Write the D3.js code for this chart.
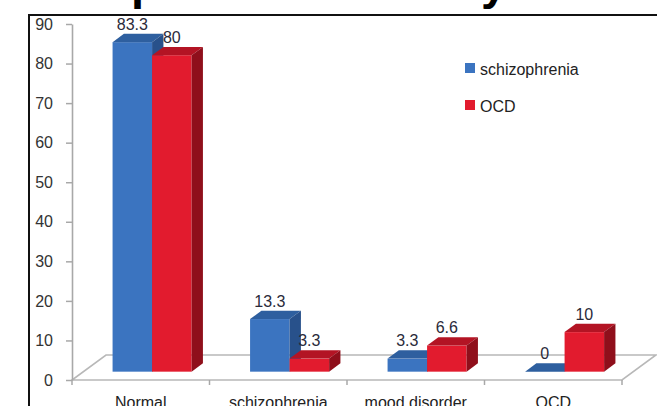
<!DOCTYPE html>
<html>
<head>
<meta charset="utf-8">
<script src="https://d3js.org/d3.v7.min.js"></script>
<style>
  html, body { margin: 0; padding: 0; background: #fff; }
  svg { display: block; }
  text { font-family: "Liberation Sans", Arial, sans-serif; }
</style>
</head>
<body>
<svg id="chart" width="657" height="406"></svg>
<script>
// Diagnoses found among relatives, by patient group (percent)
const categories = ["Normal", "schizophrenia", "mood disorder", "OCD"];
const seriesNames = ["schizophrenia", "OCD"];
const schizophreniaValues = [83.3, 13.3, 3.3, 0];
const ocdValues = [80, 3.3, 6.6, 10];
const yTickValues = [0, 10, 20, 30, 40, 50, 60, 70, 80, 90];
const titleText = "Comparison of family members";

const colors = {
  schizophrenia: { front: "#3b74c0", top: "#2e5f9f", side: "#28518b" },
  OCD: { front: "#e21b2e", top: "#b31424", side: "#8f0f1b" }
};

const svg = d3.select("#chart");
const W = 657, H = 406;

// plot geometry: front plane of the floor, plus a receding depth vector
const frontY = 380, topY = 24;
const floorDepth = { dx: 34, dy: -25 };
const barDepth = { dx: floorDepth.dx / 3, dy: floorDepth.dy / 3 };   // bars sit in the middle third
const barShift = { dx: floorDepth.dx / 3, dy: floorDepth.dy / 3 };

const x = d3.scaleBand().domain(categories).range([72, 622]);
const x1 = d3.scaleBand().domain(seriesNames).range([0, x.bandwidth()]).paddingOuter(0.74);
const y = d3.scaleLinear().domain([0, 90]).range([frontY, topY]);

// Title (sits mostly above the visible area)
const title = svg.append("text")
  .text(titleText)
  .attr("font-weight", "bold")
  .attr("font-size", 44)
  .attr("fill", "#000")
  .attr("y", -1);
{
  const node = title.node();
  const ip = titleText.indexOf("p"), iy = titleText.indexOf("y");
  let d = node.getStartPositionOfChar(iy).x - node.getStartPositionOfChar(ip).x;
  const fs = 44 * 350 / d;
  title.attr("font-size", fs);
  const px = node.getStartPositionOfChar(ip).x;
  title.attr("x", 131 - px);
}

// Frame
svg.append("path")
  .attr("d", `M29,${H + 2}V15H${W + 2}`)
  .attr("fill", "none")
  .attr("stroke", "#111")
  .attr("stroke-width", 2);

// Floor outline
const x0 = x.range()[0], xEnd = x.range()[1];
svg.append("path")
  .attr("d", `M${x0},${frontY}L${xEnd},${frontY}L${xEnd + floorDepth.dx},${frontY + floorDepth.dy}L${x0 + floorDepth.dx},${frontY + floorDepth.dy}Z`)
  .attr("fill", "none")
  .attr("stroke", "#b8b8b8")
  .attr("stroke-width", 1.6);

// Category boundary ticks
svg.append("g").selectAll("line")
  .data(categories.map(c => x(c)).concat([xEnd]))
  .join("line")
  .attr("x1", d => d).attr("x2", d => d)
  .attr("y1", frontY).attr("y2", frontY + 5)
  .attr("stroke", "#a8a8a8")
  .attr("stroke-width", 1.5);

// Value axis
const yAxis = svg.append("g")
  .attr("transform", `translate(${x0},0)`)
  .call(d3.axisLeft(y).tickValues(yTickValues).tickSize(6).tickSizeOuter(0).tickPadding(13));
yAxis.select(".domain").attr("stroke", "#a8a8a8").attr("stroke-width", 1.6);
yAxis.selectAll(".tick line").attr("stroke", "#a8a8a8").attr("stroke-width", 1.5);
yAxis.selectAll(".tick text")
  .attr("font-size", 16)
  .attr("font-family", "Liberation Sans, Arial, sans-serif")
  .attr("fill", "#333");

// Category axis labels
const xAxis = svg.append("g")
  .attr("transform", `translate(0,${frontY})`)
  .call(d3.axisBottom(x).tickSize(0).tickPadding(17));
xAxis.select(".domain").remove();
xAxis.selectAll(".tick text")
  .attr("font-size", 16)
  .attr("font-family", "Liberation Sans, Arial, sans-serif")
  .attr("fill", "#222");

// 3D bars
const rows = categories.map((c, i) => ({
  category: c,
  values: [
    { series: "schizophrenia", value: schizophreniaValues[i] },
    { series: "OCD", value: ocdValues[i] }
  ]
}));

const barsG = svg.append("g");
rows.forEach(row => {
  row.values.forEach(v => {
    const bx0 = x(row.category) + x1(v.series) + barShift.dx;
    const bx1 = bx0 + x1.bandwidth();
    const yb = y(0) + barShift.dy;
    const yt = y(v.value) + barShift.dy;
    const c = colors[v.series];
    const g = barsG.append("g");
    g.append("rect")
      .attr("x", bx0).attr("y", yt)
      .attr("width", bx1 - bx0).attr("height", yb - yt)
      .attr("fill", c.front);
    g.append("polygon")
      .attr("points", [[bx0, yt], [bx1, yt], [bx1 + barDepth.dx, yt + barDepth.dy], [bx0 + barDepth.dx, yt + barDepth.dy]].map(p => p.join(",")).join(" "))
      .attr("fill", c.top);
    g.append("polygon")
      .attr("points", [[bx1, yt], [bx1 + barDepth.dx, yt + barDepth.dy], [bx1 + barDepth.dx, yb + barDepth.dy], [bx1, yb]].map(p => p.join(",")).join(" "))
      .attr("fill", c.side);
    // value label
    g.append("text")
      .attr("x", (bx0 + bx1) / 2)
      .attr("y", yt + barDepth.dy - 4)
      .attr("text-anchor", "middle")
      .attr("font-size", 16)
      .attr("fill", "#2a2a3a")
      .text(v.value);
  });
});

// Legend
const legend = svg.append("g").attr("transform", "translate(465,63)");
seriesNames.forEach((s, i) => {
  const item = legend.append("g").attr("transform", `translate(0,${i * 37})`);
  item.append("rect").attr("width", 10).attr("height", 10).attr("fill", colors[s].front);
  item.append("text")
    .attr("x", 15).attr("y", 12)
    .attr("font-size", 16)
    .attr("fill", "#222")
    .text(s);
});
</script>
</body>
</html>
